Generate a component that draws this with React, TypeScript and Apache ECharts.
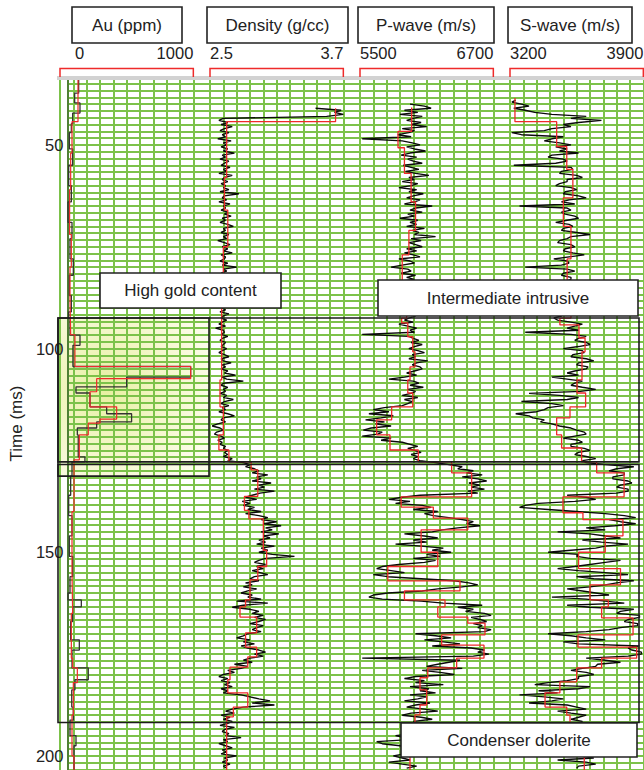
import { useEffect, useRef } from "react";
import * as echarts from "echarts";

// Two-way time window of the log plot (ms), and the time grid spacing
const TIME_TOP = 100 / 3;
const TIME_BOTTOM = 203.45;
const TIME_GRID_STEP = 5 / 3;
const TIME_LABELS = [50, 100, 150, 200];

// Track headers and scale ends
const trackTitles = ["Au (ppm)", "Density (g/cc)", "P-wave (m/s)", "S-wave (m/s)"];
const trackMin = [0, 2.5, 5500, 3200];
const trackMax = [1000, 3.7, 6700, 3900];
const trackMinLabels = ["0", "2.5", "5500", "3200"];
const trackMaxLabels = ["1000", "3.7", "6700", "3900"];

// Au assays: [interval top (ms), ppm]
const auAssay: [number, number][] = [
  [33.4, 140], [37.3, 110], [39.7, 150], [42.2, 95], [44.8, 85], [47, 70], [51, 95], [55, 65],
  [60, 85], [64, 60], [69, 90], [73, 75], [78, 100], [82, 70], [87, 85], [91, 65], [92.5, 75],
  [96.7, 150], [99.2, 97], [104.4, 980], [107.0, 500], [109.4, 120], [110.9, 225], [114.3, 350],
  [116.0, 537], [118.0, 275], [119.5, 130], [121.2, 137], [126.6, 187], [127.8, 90], [131.3, 80],
  [136, 65], [141, 90], [146, 70], [151, 95], [156, 75], [160, 60], [161.7, 160], [163.4, 95],
  [167, 80], [171.5, 145], [174, 90], [178.4, 212], [181.3, 112], [183.8, 88], [188, 100],
  [191.2, 75], [195, 120], [197.5, 105],
];
// Au blocked (upscaled) curve: [interval top (ms), ppm]
const auBlocked: [number, number][] = [
  [33.4, 135], [44.3, 90], [52, 80], [61, 72], [72, 85], [80, 75], [88, 80], [96.6, 112],
  [104.4, 980], [107.4, 275], [110.6, 225], [114.3, 425], [117.3, 300], [118.3, 212], [121.2, 145],
  [127.3, 105], [140, 90], [155, 95], [165, 85], [176, 95], [178.4, 130], [182, 100], [190, 90],
  [200, 105],
];

// Logs are sampled every half millisecond
const SAMPLE_MS = 0.5;

// Density log (g/cc) from densityStart
const densityStart = 41;
const densityLog = [
  3.45, 3.68, 3.62, 3.70, 3.55, 2.62, 2.58, 2.66, 2.60, 2.70,
  2.63, 2.59, 2.67, 2.61, 2.64, 2.57, 2.69, 2.62, 2.65, 2.60,
  2.66, 2.62, 2.72, 2.61, 2.64, 2.59, 2.67, 2.63, 2.60, 2.68,
  2.62, 2.65, 2.58, 2.70, 2.63, 2.61, 2.66, 2.60, 2.64, 2.62,
  2.67, 2.59, 2.76, 2.63, 2.61, 2.65, 2.58, 2.68, 2.62, 2.64,
  2.60, 2.66, 2.63, 2.69, 2.61, 2.64, 2.59, 2.66, 2.71, 2.62,
  2.64, 2.60, 2.67, 2.62, 2.65, 2.57, 2.63, 2.68, 2.61, 2.66,
  2.62, 2.70, 2.60, 2.64, 2.63, 2.59, 2.66, 2.61, 2.74, 2.62,
  2.65, 2.60, 2.67, 2.58, 2.63, 2.61, 2.66, 2.62, 2.64, 2.59,
  2.68, 2.61, 2.63, 2.57, 2.65, 2.62, 2.60, 2.66, 2.61, 2.64,
  2.59, 2.67, 2.62, 2.60, 2.65, 2.61, 2.58, 2.64, 2.55, 2.62,
  2.63, 2.60, 2.66, 2.61, 2.59, 2.64, 2.62, 2.60, 2.65, 2.61,
  2.58, 2.63, 2.67, 2.60, 2.62, 2.69, 2.61, 2.64, 2.60, 2.66,
  2.63, 2.73, 2.61, 2.65, 2.80, 2.62, 2.60, 2.66, 2.62, 2.64,
  2.59, 2.65, 2.62, 2.71, 2.63, 2.60, 2.67, 2.61, 2.64, 2.58,
  2.66, 2.72, 2.62, 2.60, 2.64, 2.57, 2.52, 2.59, 2.62, 2.56,
  2.54, 2.60, 2.63, 2.57, 2.61, 2.59, 2.64, 2.62, 2.66, 2.63,
  2.66, 2.62, 2.70, 2.66, 2.80, 2.86, 2.82, 2.90, 2.94, 2.88,
  3.02, 2.92, 2.96, 2.88, 3.05, 2.94, 2.99, 2.90, 3.08, 2.95,
  2.88, 2.82, 2.92, 2.79, 2.86, 2.80, 2.90, 2.84, 2.96, 2.82,
  2.94, 3.02, 2.96, 3.10, 2.98, 3.14, 3.00, 3.06, 2.96, 3.12,
  2.98, 3.04, 2.94, 3.00, 2.92, 3.08, 2.96, 3.02, 2.94, 3.06,
  3.26, 3.00, 2.94, 2.90, 3.00, 2.92, 2.98, 2.88, 2.95, 3.02,
  2.90, 2.86, 2.94, 2.82, 2.88, 2.80, 2.92, 2.84, 2.78, 2.88,
  2.84, 2.96, 2.74, 3.02, 2.80, 2.70, 2.86, 2.94, 2.88, 2.98,
  2.90, 3.00, 2.94, 2.86, 2.98, 2.92, 2.88, 2.96, 2.84, 2.80,
  2.74, 2.86, 2.80, 2.90, 2.78, 2.84, 2.94, 3.00, 2.90, 2.98,
  2.86, 2.80, 2.88, 2.72, 2.84, 2.78, 2.66, 2.72, 2.62, 2.58,
  2.66, 2.60, 2.68, 2.63, 2.70, 2.60, 2.66, 2.62, 2.78, 2.86,
  2.94, 3.04, 2.88, 3.08, 2.80, 2.70, 2.64, 2.72, 2.60, 2.68,
  2.62, 2.70, 2.66, 2.59, 2.72, 2.63, 2.61, 2.67, 2.64, 2.78,
  2.62, 2.66, 2.58, 2.64, 2.70, 2.61, 2.65, 2.60, 2.74, 2.63,
  2.66, 2.61, 2.68, 2.62, 2.65,
];
const densityBlocked: [number, number][] = [
  [41.0, 3.63], [44.3, 2.65], [58, 2.63], [66, 2.66], [75, 2.62], [84, 2.64], [88, 2.605],
  [107.7, 2.59], [114.3, 2.62], [121.2, 2.58], [124.9, 2.67], [127.8, 2.87], [129.8, 2.93],
  [136.3, 2.81], [139.7, 2.85], [141.8, 2.98], [149.5, 3.01], [153.5, 2.93], [156.8, 2.86],
  [161.7, 2.82], [163.4, 2.77], [165.9, 2.92], [169.8, 2.82], [173.3, 2.92], [175.7, 2.84],
  [178.2, 2.68], [181.3, 2.66], [184.5, 2.84], [188.0, 2.71], [190.4, 2.65],
];

// P-wave velocity log (m/s) from pwaveStart
const pwaveStart = 40;
const pwaveLog = [
  5950, 6080, 6140, 5900, 6020, 5860, 6060, 5980, 5920, 6050,
  5960, 6100, 5880, 5990, 5940, 5840, 5960, 5520, 5880, 5970,
  6040, 5920, 5990, 6090, 5950, 5870, 6010, 5930, 5980, 6060,
  5890, 5960, 6030, 5910, 6000, 6120, 5940, 5990, 5880, 6020,
  5960, 5850, 6010, 5940, 6070, 5980, 5920, 6040, 5990, 5900,
  6150, 6000, 5950, 6060, 5930, 5990, 5860, 6020, 5950, 6010,
  5920, 6080, 5970, 6030, 5990, 6180, 5960, 6050, 5940, 6000,
  6060, 5920, 6010, 5900, 5980, 6040, 5850, 5950, 5990, 5880,
  5780, 5930, 5960, 5870, 6000, 5920, 5990, 5840, 5940, 5980,
  5900, 5820, 5950, 5880, 5990, 5860, 5920, 5970, 5870, 5940,
  5880, 5960, 5920, 5870, 6000, 5940, 5900, 5980, 5850, 5930,
  6010, 5950, 5990, 5520, 5940, 5980, 6030, 5960, 6060, 5990,
  5940, 6020, 6080, 5970, 6000, 5940, 6110, 6010, 5970, 6040,
  6060, 5990, 5920, 6010, 5900, 5760, 5980, 6030, 5950, 6070,
  5930, 6000, 5960, 5880, 6020, 5900, 5970, 5930, 5880, 5720,
  5620, 5760, 5580, 5800, 5690, 5550, 5720, 5640, 5780, 5600,
  5530, 5700, 5660, 5520, 5780, 5690, 5880, 5950, 6020, 5930,
  5990, 6050, 5960, 6020, 5980, 6040, 6180, 6300, 6420, 6380,
  6520, 6460, 6600, 6420, 6560, 6640, 6480, 6580, 6500, 6620,
  6470, 6560, 6040, 5880, 5760, 5950, 5820, 6060, 6140, 5980,
  6200, 6080, 6160, 6300, 6420, 6520, 6460, 6580, 6380, 6240,
  6150, 5900, 6080, 6200, 5980, 6100, 5820, 6050, 6250, 6150,
  6320, 6100, 6220, 5980, 6180, 6080, 5850, 5700, 5650, 5780,
  5900, 5620, 5750, 6050, 6350, 6480, 6560, 6420, 6200, 6060,
  5750, 5620, 5580, 5700, 6050, 6250, 6600, 6380, 6520, 6450,
  6620, 6680, 6500, 6580, 6640, 6520, 6600, 6560, 6680, 6620,
  6000, 6180, 6320, 6080, 6250, 6400, 6150, 6500, 6620, 6560,
  6660, 6520, 5520, 6400, 6300, 6200, 6100, 6420, 6060, 6220,
  6350, 6000, 5900, 6080, 6000, 6250, 5950, 6120, 6040, 6180,
  5950, 6100, 6020, 5900, 6130, 6000, 5920, 6080, 6200, 5960,
  5880, 6050, 6150, 5980, 6020, 5900, 6060, 5960, 5880, 6000,
  5820, 5900, 5940, 5650, 5700, 5860, 5920, 5980, 6020, 5900,
  5800, 5880, 5950, 5760, 5880, 6010, 5920,
];
const pwaveBlocked: [number, number][] = [
  [40.8, 5965], [46.7, 5842], [50.7, 5900], [57, 5960], [64, 6000], [71, 5940], [77, 5880],
  [84, 5920], [92.5, 5875], [93.7, 5930], [97.1, 5975], [100.8, 5995], [104.5, 5950],
  [107.7, 5930], [110.9, 5975], [114.3, 5785], [117.5, 5650], [121.2, 5770], [124.9, 6025],
  [127.8, 6325], [130.5, 6505], [136.4, 5870], [138.9, 6160], [141.6, 6470], [144.5, 6050],
  [150, 6200], [153.5, 5750], [157, 6400], [159.5, 5900], [161.7, 6265], [163.4, 6200],
  [165.9, 6470], [167.4, 6625], [170.3, 6235], [172.8, 6616], [176, 6370], [178.4, 6110],
  [180.8, 6040], [183.8, 6100], [187.5, 6040], [189.9, 5995], [195, 5950],
];

// S-wave velocity log (m/s) from swaveStart
const swaveStart = 39;
const swaveLog = [
  3230, 3210, 3260, 3300, 3220, 3280, 3330, 3420, 3600, 3520,
  3680, 3560, 3480, 3520, 3420, 3380, 3210, 3260, 3480, 3420,
  3380, 3460, 3520, 3440, 3500, 3460, 3560, 3420, 3400, 3480,
  3500, 3440, 3220, 3520, 3530, 3470, 3460, 3550, 3580, 3500,
  3500, 3460, 3440, 3520, 3550, 3490, 3480, 3560, 3600, 3510,
  3470, 3540, 3250, 3500, 3520, 3470, 3490, 3540, 3560, 3500,
  3440, 3510, 3530, 3480, 3470, 3550, 3620, 3520, 3500, 3460,
  3450, 3520, 3540, 3490, 3480, 3530, 3590, 3510, 3430, 3500,
  3510, 3470, 3280, 3500, 3540, 3480, 3470, 3520, 3520, 3490,
  3480, 3530, 3550, 3470, 3440, 3510, 3500, 3540, 3460, 3500,
  3530, 3480, 3490, 3540, 3510, 3470, 3470, 3430, 3450, 3520,
  3580, 3540, 3500, 3560, 3280, 3520, 3600, 3560, 3540, 3600,
  3620, 3560, 3480, 3580, 3590, 3530, 3520, 3600, 3640, 3560,
  3550, 3610, 3600, 3540, 3500, 3560, 3420, 3500, 3580, 3540,
  3520, 3580, 3650, 3570, 3300, 3460, 3560, 3500, 3260, 3420,
  3480, 3400, 3380, 3340, 3230, 3300, 3320, 3380, 3360, 3420,
  3460, 3520, 3550, 3590, 3600, 3540, 3480, 3560, 3580, 3520,
  3520, 3590, 3620, 3560, 3540, 3600, 3650, 3580, 3600, 3700,
  3850, 3760, 3720, 3800, 3800, 3740, 3740, 3820, 3840, 3780,
  3760, 3820, 3820, 3760, 3500, 3600, 3650, 3540, 3350, 3280,
  3250, 3400, 3550, 3700, 3800, 3860, 3720, 3780, 3860, 3750,
  3600, 3700, 3450, 3620, 3700, 3780, 3580, 3680, 3820, 3700,
  3650, 3520, 3400, 3560, 3550, 3620, 3780, 3700, 3620, 3540,
  3450, 3560, 3700, 3820, 3550, 3640, 3850, 3760, 3700, 3620,
  3500, 3580, 3650, 3720, 3420, 3600, 3700, 3800, 3500, 3620,
  3850, 3780, 3760, 3880, 3880, 3820, 3800, 3870, 3870, 3780,
  3720, 3600, 3400, 3520, 3600, 3700, 3480, 3560, 3880, 3820,
  3840, 3890, 3890, 3820, 3600, 3700, 3780, 3660, 3650, 3580,
  3520, 3600, 3640, 3560, 3560, 3500, 3400, 3330, 3620, 3560,
  3350, 3450, 3250, 3380, 3480, 3420, 3300, 3500, 3550, 3600,
  3450, 3520, 3600, 3560, 3520, 3580, 3560, 3500, 3600, 3540,
  3500, 3560, 3620, 3580, 3540, 3600, 3580, 3520, 3510, 3560,
  3600, 3520, 3560, 3640, 3450, 3600, 3650, 3560, 3550,
];
const swaveBlocked: [number, number][] = [
  [38.5, 3226], [44.3, 3445], [50.4, 3498], [56, 3530], [63, 3480], [70, 3520], [78, 3500],
  [86, 3520], [92.5, 3462], [94.2, 3562], [97.4, 3594], [100.8, 3578], [107.7, 3552],
  [110.9, 3597], [114.3, 3515], [117, 3445], [121.2, 3471], [124.4, 3576], [127.8, 3655],
  [130.5, 3799], [136.4, 3478], [140.3, 3583], [142, 3793], [146, 3700], [150, 3560],
  [154, 3780], [158, 3620], [161.7, 3716], [163.4, 3681], [166.1, 3846], [170.3, 3557],
  [173.3, 3865], [176, 3681], [178.4, 3550], [181.8, 3462], [184.5, 3384], [188, 3498],
  [190, 3515], [199.5, 3590],
];

// Interpreted zones (ms)
const zoneNames = ["High gold content", "Intermediate intrusive", "Condenser dolerite"];
const zoneTop = [92.5, 92.5, 128.45];
const zoneBase = [131.3, 127.8, 191.8];

// Layout
const W = 644;
const H = 770;
const PLOT_LEFT = 58;
const PLOT_TOP = 77;
const TRACK_LEFT = [60, 210, 360, 510];
const TRACK_WIDTH = 133.33;
const HEADER_BOX_LEFT = [72, 207, 358, 508];
const HEADER_BOX_RIGHT = [182, 348, 494, 632];
const GREEN = "#7cc24a";
const RED = "#ee2b2b";
const INK = "#222222";
const FONT = "'Liberation Sans', Arial, sans-serif";

const sampled = (start: number, values: number[]) =>
  values.map((v, i) => [v, start + i * SAMPLE_MS]);
const blocked = (rows: [number, number][]) => [
  ...rows.map(([t, v]) => [v, t]),
  [rows[rows.length - 1][1], TIME_BOTTOM],
];

function buildOption() {
  const grids: any[] = [{ left: PLOT_LEFT, right: 0, top: PLOT_TOP, bottom: 0 }];
  const xAxes: any[] = [{ type: "value", gridIndex: 0, min: 0, max: 1, show: false }];
  const yAxes: any[] = [
    {
      type: "value",
      gridIndex: 0,
      inverse: true,
      min: TIME_TOP,
      max: TIME_BOTTOM,
      interval: TIME_GRID_STEP,
      axisLine: { show: true, lineStyle: { color: "#4f7f36", width: 2 } },
      axisTick: { show: false },
      axisLabel: {
        formatter: (v: number) =>
          TIME_LABELS.some((l) => Math.abs(l - v) < 0.01) ? String(Math.round(v)) : "",
        fontSize: 16.5,
        color: INK,
        fontFamily: FONT,
        margin: 4,
      },
      splitLine: { show: true, lineStyle: { color: GREEN, width: 2 } },
      name: "Time (ms)",
      nameLocation: "middle",
      nameRotate: 90,
      nameGap: 33,
      nameTextStyle: { fontSize: 17, color: INK, fontFamily: FONT },
    },
  ];
  TRACK_LEFT.forEach((left, i) => {
    grids.push({ left, width: TRACK_WIDTH, top: PLOT_TOP, bottom: 0 });
    xAxes.push({
      type: "value",
      gridIndex: i + 1,
      min: 0,
      max: 10,
      interval: 1,
      position: "bottom",
      axisLine: { show: false },
      axisTick: { show: false },
      axisLabel: { show: false },
      splitLine: { show: true, lineStyle: { color: GREEN, width: 2 } },
    });
    xAxes.push({
      type: "value",
      gridIndex: i + 1,
      min: trackMin[i],
      max: trackMax[i],
      position: "top",
      show: false,
    });
    yAxes.push({
      type: "value",
      gridIndex: i + 1,
      inverse: true,
      min: TIME_TOP,
      max: TIME_BOTTOM,
      show: false,
    });
  });

  const logLine = (track: number, data: number[][]) => ({
    type: "line",
    xAxisIndex: 2 + track * 2,
    yAxisIndex: 1 + track,
    data,
    symbol: "none",
    silent: true,
    z: 3,
    lineStyle: { color: "#0a0a0a", width: 1.35 },
  });
  const blockLine = (track: number, data: number[][], color: string, width: number, z: number) => ({
    type: "line",
    xAxisIndex: 2 + track * 2,
    yAxisIndex: 1 + track,
    data,
    step: "start",
    symbol: "none",
    silent: true,
    z,
    lineStyle: { color, width },
  });

  return {
    animation: false,
    backgroundColor: "#ffffff",
    grid: grids,
    xAxis: xAxes,
    yAxis: yAxes,
    series: [
      blockLine(0, blocked(auAssay), "#333", 1.3, 3),
      blockLine(0, blocked(auBlocked), RED, 1.2, 4),
      logLine(1, sampled(densityStart, densityLog)),
      blockLine(1, blocked(densityBlocked), RED, 1.3, 4),
      logLine(2, sampled(pwaveStart, pwaveLog)),
      blockLine(2, blocked(pwaveBlocked), RED, 1.3, 4),
      logLine(3, sampled(swaveStart, swaveLog)),
      blockLine(3, blocked(swaveBlocked), RED, 1.3, 4),
    ],
  };
}

function buildGraphics(yPx: (t: number) => number) {
  const g: any[] = [];
  const text = (x: number, y: number, s: string, align: string, size: number, z = 80) => ({
    type: "text",
    x,
    y,
    z,
    style: { text: s, align, verticalAlign: "middle", fontSize: size, fontFamily: FONT, fill: INK },
  });
  const box = (x0: number, y0: number, x1: number, y1: number, label: string, z = 70) => [
    {
      type: "rect",
      z,
      shape: { x: x0, y: y0, width: x1 - x0, height: y1 - y0 },
      style: { fill: "#ffffff", stroke: INK, lineWidth: 1.6 },
    },
    text((x0 + x1) / 2, (y0 + y1) / 2, label, "center", 17, z + 1),
  ];

  // header strip along the top of the plot
  g.push({
    type: "rect",
    z: 50,
    shape: { x: PLOT_LEFT - 1, y: PLOT_TOP - 1, width: W - PLOT_LEFT + 1, height: 4 },
    style: { fill: "#d2d2d2" },
  });

  // track headers, scale ends and red scale brackets
  TRACK_LEFT.forEach((left, i) => {
    const right = left + TRACK_WIDTH;
    g.push(...box(HEADER_BOX_LEFT[i], 7, HEADER_BOX_RIGHT[i], 43, trackTitles[i]));
    g.push(text(i === 0 ? left + 15 : left, 53, trackMinLabels[i], "left", 16.5));
    g.push(text(right, 53, trackMaxLabels[i], "right", 16.5));
    g.push({
      type: "polyline",
      z: 60,
      shape: { points: [[left, PLOT_TOP], [left, 68.5], [right, 68.5], [right, PLOT_TOP]] },
      style: { stroke: RED, lineWidth: 1.5, fill: "none" },
    });
  });

  // gold zone shading sits beneath the grid lines
  const gTop = yPx(zoneTop[0]);
  const gBase = yPx(zoneBase[0]);
  g.push({
    type: "rect",
    z: -1,
    shape: { x: PLOT_LEFT, y: gTop, width: 209 - PLOT_LEFT, height: gBase - gTop },
    style: {
      fill: {
        type: "radial",
        x: 0.32,
        y: 0.45,
        r: 0.75,
        colorStops: [
          { offset: 0, color: "#e7efa0" },
          { offset: 0.5, color: "#f3f6c8" },
          { offset: 1, color: "#fdfdec" },
        ],
      },
    },
  });

  // zone outlines
  const outline = (x0: number, x1: number, t0: number, t1: number) => {
    const y0 = yPx(t0);
    const y1 = yPx(t1);
    return {
      type: "rect",
      z: 60,
      shape: { x: x0, y: y0, width: x1 - x0, height: y1 - y0 },
      style: { fill: "none", stroke: "#1c1c1c", lineWidth: 1.6 },
    };
  };
  g.push(outline(PLOT_LEFT, 209, zoneTop[0], zoneBase[0]));
  g.push(outline(PLOT_LEFT, 639, zoneTop[1], zoneBase[1]));
  g.push(outline(PLOT_LEFT, 639, zoneTop[2], zoneBase[2]));

  // zone labels
  g.push(...box(100, 273, 281, 308, zoneNames[0]));
  g.push(...box(378, 280, 638, 316, zoneNames[1]));
  g.push(...box(401, 723, 637, 757, zoneNames[2]));
  return g;
}

export default function App() {
  const ref = useRef<HTMLDivElement>(null);
  useEffect(() => {
    const el = ref.current;
    if (!el) return;
    const chart = echarts.init(el, null, { renderer: "svg" });
    chart.setOption(buildOption() as any);
    const yPx = (t: number) => chart.convertToPixel({ yAxisIndex: 0 }, t) as number;
    chart.setOption({ graphic: buildGraphics(yPx) } as any);
    return () => chart.dispose();
  }, []);
  return (
    <div
      ref={ref}
      style={{ position: "absolute", left: 0, top: 0, width: W, height: H, background: "#fff" }}
    />
  );
}
